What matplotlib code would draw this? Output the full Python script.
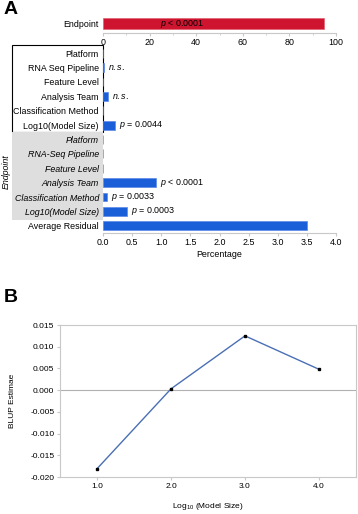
import matplotlib.pyplot as plt
import matplotlib.patches as mpatches
from matplotlib.ticker import MultipleLocator

plt.rcParams['font.family'] = ['Liberation Sans', 'DejaVu Sans']
plt.rcParams['mathtext.fontset'] = 'custom'
plt.rcParams['mathtext.it'] = 'Liberation Sans:italic'
plt.rcParams['mathtext.rm'] = 'Liberation Sans'
plt.rcParams['hatch.color'] = "#c6c6c6"
plt.rcParams['hatch.linewidth'] = 0.5
FS = 6.4

# panel A data
endpoint_value = 95.0
endpoint_note = "$p$ < 0.0001"
rows = ["Platform", "RNA Seq Pipeline", "Feature Level", "Analysis Team",
        "Classification Method", "Log10(Model Size)",
        "Platform", "RNA-Seq Pipeline", "Feature Level", "Analysis Team",
        "Classification Method", "Log10(Model Size)", "Average Residual"]
values = [0.0, 0.02, 0.0, 0.09, 0.0, 0.20,
          0.0, 0.0, 0.0, 0.91, 0.07, 0.41, 3.51]
notes = ["", "$n.s.$", "", "$n.s.$", "", "$p$ = 0.0044",
         "", "", "", "$p$ < 0.0001", "$p$ = 0.0033", "$p$ = 0.0003", ""]
italic_rows = [False] * 6 + [True] * 6 + [False]

# panel B data
model_size = [1.0, 2.0, 3.0, 4.0]
blup = [-0.0181, 0.0003, 0.0125, 0.0048]

RED = "#cf1430"
BLUE = "#1b5fd8"
GRID = "#c8c8c8"

fig = plt.figure(figsize=(3.58, 5.14), dpi=100)
W, H = 358, 514


def fax(x0, y0, x1, y1):
    return fig.add_axes([x0 / W, 1 - y1 / H, (x1 - x0) / W, (y1 - y0) / H])


# box and shaded group behind the labels
fig.patches.append(mpatches.Rectangle((12 / W, 1 - 132 / H), 91 / W, 87 / H,
                                      transform=fig.transFigure, fill=False,
                                      edgecolor="black", linewidth=0.8, zorder=-2))
fig.patches.append(mpatches.Rectangle((12 / W, 1 - 220 / H), 91 / W, 88 / H,
                                      transform=fig.transFigure, facecolor="#dedede",
                                      edgecolor="none", hatch="......", zorder=-2))

# top axis: Endpoint
ax0 = fax(103, 14, 336, 33)
ax0.barh([0], [endpoint_value], height=0.62, color=RED, edgecolor="#e06070", linewidth=0.5)
ax0.text(34, 0, endpoint_note, fontsize=FS, va="center", ha="center")
ax0.set_xlim(0, 100)
ax0.set_ylim(-0.5, 0.5)
ax0.set_yticks([0])
ax0.set_yticklabels(["Endpoint"], fontsize=FS)
ax0.xaxis.set_major_locator(MultipleLocator(20))
ax0.xaxis.set_minor_locator(MultipleLocator(10))
for s in ["top", "right", "left"]:
    ax0.spines[s].set_visible(False)
ax0.spines["bottom"].set_color(GRID)
ax0.tick_params(axis="x", labelsize=FS, length=2, color=GRID, pad=1.5)
ax0.tick_params(axis="x", which="minor", length=1.5, color=GRID)
ax0.tick_params(axis="y", length=0, pad=3)
ax0.patch.set_visible(False)

# lower axis: components
ax1 = fax(103, 46, 336, 233)
ax1.patch.set_visible(False)
ypos = list(range(len(rows)))
ax1.barh(ypos, values, height=0.62, color=BLUE, edgecolor="#5a8ae6", linewidth=0.5)
for y, v, n in zip(ypos, values, notes):
    if n:
        ax1.annotate(n, (v, y), xytext=(3, 0), textcoords="offset points",
                     fontsize=FS, va="center", ha="left")
ax1.set_xlim(0, 4)
ax1.set_ylim(len(rows) - 0.5, -0.5)
ax1.set_yticks(ypos)
ax1.set_yticklabels(rows, fontsize=FS)
for lab, it in zip(ax1.get_yticklabels(), italic_rows):
    if it:
        lab.set_style("italic")
ax1.xaxis.set_major_locator(MultipleLocator(0.5))
for s in ["top", "right", "left"]:
    ax1.spines[s].set_visible(False)
ax1.spines["bottom"].set_color(GRID)
ax1.tick_params(axis="x", labelsize=FS, length=2, color=GRID, pad=1.5)
ax1.tick_params(axis="y", length=0, pad=3)
ax1.set_xlabel("Percentage", fontsize=FS, labelpad=2)

fig.text(6 / W, 1 - 172 / H, "Endpoint", rotation=90, style="italic",
         fontsize=FS, ha="center", va="center")

# panel B
ax2 = fax(60, 325, 356, 477)
ax2.plot(model_size, blup, color="#4a6fb5", linewidth=1.0, zorder=3)
ax2.plot(model_size, blup, "s", color="black", markersize=2, zorder=4)
ax2.axhline(0, color="#b0b0b0", linewidth=0.8)
ax2.set_xlim(0.5, 4.5)
ax2.set_ylim(-0.020, 0.015)
ax2.set_xticks(model_size)
ax2.set_xticklabels(["1.0", "2.0", "3.0", "4.0"])
ax2.yaxis.set_major_locator(MultipleLocator(0.005))
ax2.yaxis.set_major_formatter(plt.FuncFormatter(lambda v, p: f"{v:.3f}"))
for s in ax2.spines.values():
    s.set_color(GRID)
ax2.tick_params(labelsize=6, length=2, color=GRID, pad=2)
ax2.set_ylabel("BLUP Estimae", fontsize=6, labelpad=10)
ax2.set_xlabel("Log$_{10}$ (Model Size)", fontsize=6, labelpad=8)

fig.text(4 / W, 1 - 10 / H, "A", fontsize=14, fontweight="bold", va="center")
fig.text(4 / W, 1 - 298 / H, "B", fontsize=14, fontweight="bold", va="center")

fig.savefig("out.png", dpi=100)
